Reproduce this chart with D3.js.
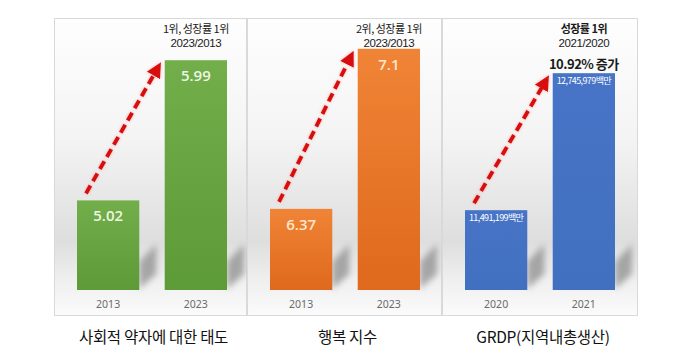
<!DOCTYPE html>
<html><head><meta charset="utf-8">
<script src="https://cdn.jsdelivr.net/npm/d3@7"></script>
<style>html,body{margin:0;padding:0;background:#fff;}svg{display:block;}</style>
</head><body>
<script>
// ---- data ----
const panelTitles = ["사회적 약자에 대한 태도", "행복 지수", "GRDP(지역내총생산)"];
const categories = [["2013", "2023"], ["2013", "2023"], ["2020", "2021"]];
const values = [[5.02, 5.99], [6.37, 7.1], [11491199, 12745979]];
const valueLabels = [["5.02", "5.99"], ["6.37", "7.1"], ["11,491,199백만", "12,745,979백만"]];
const domainMin = [4.4, 6.0, 10760000];
const domainMax = [6.13, 7.14, 13050000];
const notes = [["1위, 성장률 1위", "2023/2013"], ["2위, 성장률 1위", "2023/2013"], ["성장률 1위", "2021/2020", "10.92% 증가"]];
const barColors = [["#72ae4a", "#5d9a38"], ["#f08436", "#df691d"], ["#4774c6", "#4270c0"]];
const labelColors = ["#eef6e4", "#fde7cc", "#ffffff"];

// ---- layout ----
const W = 698, H = 361;
const panelX = [54, 247, 442, 638];
const panelTop = 18, panelBottom = 315, base = 290, rangeTop = 40;

const svg = d3.select("body").append("svg").attr("width", W).attr("height", H);
const defs = svg.append("defs");

const bg = defs.append("linearGradient").attr("id", "bg").attr("x1", 0).attr("y1", 0).attr("x2", 0).attr("y2", 1);
[[0, "#fefefe"], [0.4, "#f4f4f4"], [0.75, "#dedede"], [0.88, "#efefef"], [1, "#fbfbfb"]]
  .forEach(([o, c]) => bg.append("stop").attr("offset", o).attr("stop-color", c));

barColors.forEach((c, i) => {
  const g = defs.append("linearGradient").attr("id", "bar" + i).attr("x1", 0).attr("y1", 0).attr("x2", 0).attr("y2", 1);
  g.append("stop").attr("offset", 0).attr("stop-color", c[0]);
  g.append("stop").attr("offset", 1).attr("stop-color", c[1]);
});

const blur = defs.append("filter").attr("id", "blur").attr("x", "-50%").attr("y", "-50%").attr("width", "200%").attr("height", "200%");
blur.append("feGaussianBlur").attr("stdDeviation", 3);

const glow = defs.append("filter").attr("id", "glow").attr("x", "-20%").attr("y", "-20%").attr("width", "140%").attr("height", "140%");
glow.append("feGaussianBlur").attr("in", "SourceAlpha").attr("stdDeviation", 1.5).attr("result", "b");
glow.append("feFlood").attr("flood-color", "#ff9a9a").attr("flood-opacity", 0.8);
glow.append("feComposite").attr("in2", "b").attr("operator", "in").attr("result", "g");
const mg = glow.append("feMerge");
mg.append("feMergeNode").attr("in", "g");
mg.append("feMergeNode").attr("in", "SourceGraphic");

defs.append("marker").attr("id", "head").attr("viewBox", "0 0 10 10")
  .attr("refX", 7).attr("refY", 5).attr("markerWidth", 3.8).attr("markerHeight", 3.8)
  .attr("orient", "auto").attr("markerUnits", "strokeWidth")
  .append("path").attr("d", "M0,0 L10,5 L0,10 Z").attr("fill", "#d80c0c");

panelTitles.forEach((title, i) => {
  const x0 = panelX[i], x1 = panelX[i + 1];
  const g = svg.append("g");
  g.append("rect").attr("x", x0 + 0.5).attr("y", panelTop + 0.5).attr("width", x1 - x0 - 1).attr("height", panelBottom - panelTop)
    .attr("fill", "url(#bg)").attr("stroke", "#d9d9d9").attr("stroke-width", 1);

  const xs = d3.scaleBand().domain(categories[i]).range([x0 + 23, x0 + 173]).paddingInner(0.29).paddingOuter(0);
  const ys = d3.scaleLinear().domain([domainMin[i], domainMax[i]]).range([base, rangeTop]);
  const bw = xs.bandwidth();
  const data = categories[i].map((c, j) => ({ c, v: values[i][j], label: valueLabels[i][j] }));

  // shadows
  g.selectAll(".sh").data(data).join("path")
    .attr("d", d => {
      const r = xs(d.c) + bw;
      return `M${r},${base - 1} L${r},${base - 28} L${r + 17},${base - 46} L${r + 17},${base - 16} Z`;
    })
    .attr("fill", "#888").attr("opacity", 0.7).attr("filter", "url(#blur)");

  // bars
  g.selectAll(".bar").data(data).join("rect")
    .attr("x", d => xs(d.c)).attr("y", d => ys(d.v))
    .attr("width", bw).attr("height", d => base - ys(d.v))
    .attr("fill", `url(#bar${i})`);

  // value labels
  const small = i === 2;
  g.selectAll(".vl").data(data).join("text")
    .attr("x", d => xs(d.c) + bw / 2)
    .attr("y", d => ys(d.v) + (small ? 11 : 21))
    .attr("text-anchor", "middle")
    .attr("font-family", small ? "'Noto Sans CJK KR', sans-serif" : "'Open Sans', 'Noto Sans', sans-serif")
    .attr("font-size", small ? 9 : 15)
    .attr("letter-spacing", small ? -0.6 : 0)
    .attr("font-weight", small ? 400 : 600)
    .attr("fill", labelColors[i])
    .text(d => d.label);

  // category labels
  g.selectAll(".cl").data(data).join("text")
    .attr("x", d => xs(d.c) + bw / 2).attr("y", 308)
    .attr("text-anchor", "middle")
    .attr("font-family", "'Noto Sans', sans-serif").attr("font-size", 10.5)
    .attr("fill", "#6a6a6a").text(d => d.c);

  // arrow
  const a = data[0], b = data[1];
  g.append("line")
    .attr("x1", xs(a.c) + 9).attr("y1", ys(a.v) - 7)
    .attr("x2", xs(b.c) - 6).attr("y2", ys(b.v) + 6)
    .attr("stroke", "#d80c0c").attr("stroke-width", 4)
    .attr("stroke-dasharray", "9,5")
    .attr("marker-end", "url(#head)")
    .attr("filter", "url(#glow)");

  // notes
  const cx = xs(b.c) + bw / 2;
  const noteY = [33, 47, 69];
  notes[i].forEach((t, k) => {
    const bold = i === 2 && k !== 1;
    const digits = k === 1;
    g.append("text").attr("x", cx).attr("y", noteY[k])
      .attr("text-anchor", "middle")
      .attr("font-family", digits ? "'Liberation Sans', Arial, sans-serif" : "'Noto Sans CJK KR', sans-serif")
      .attr("font-size", k === 2 ? 13 : (digits ? 11.5 : 11))
      .attr("font-weight", bold ? 700 : 400)
      .attr("letter-spacing", digits ? -0.4 : -0.5)
      .attr("fill", "#1a1a1a").text(t);
  });

  // title
  g.append("text").attr("x", (x0 + x1) / 2 + 3).attr("y", 343)
    .attr("text-anchor", "middle")
    .attr("font-family", "'Noto Sans CJK KR', sans-serif")
    .attr("font-size", 15.5).attr("fill", "#111")
    .attr("letter-spacing", -0.3)
    .text(title);
});
</script>
</body></html>
